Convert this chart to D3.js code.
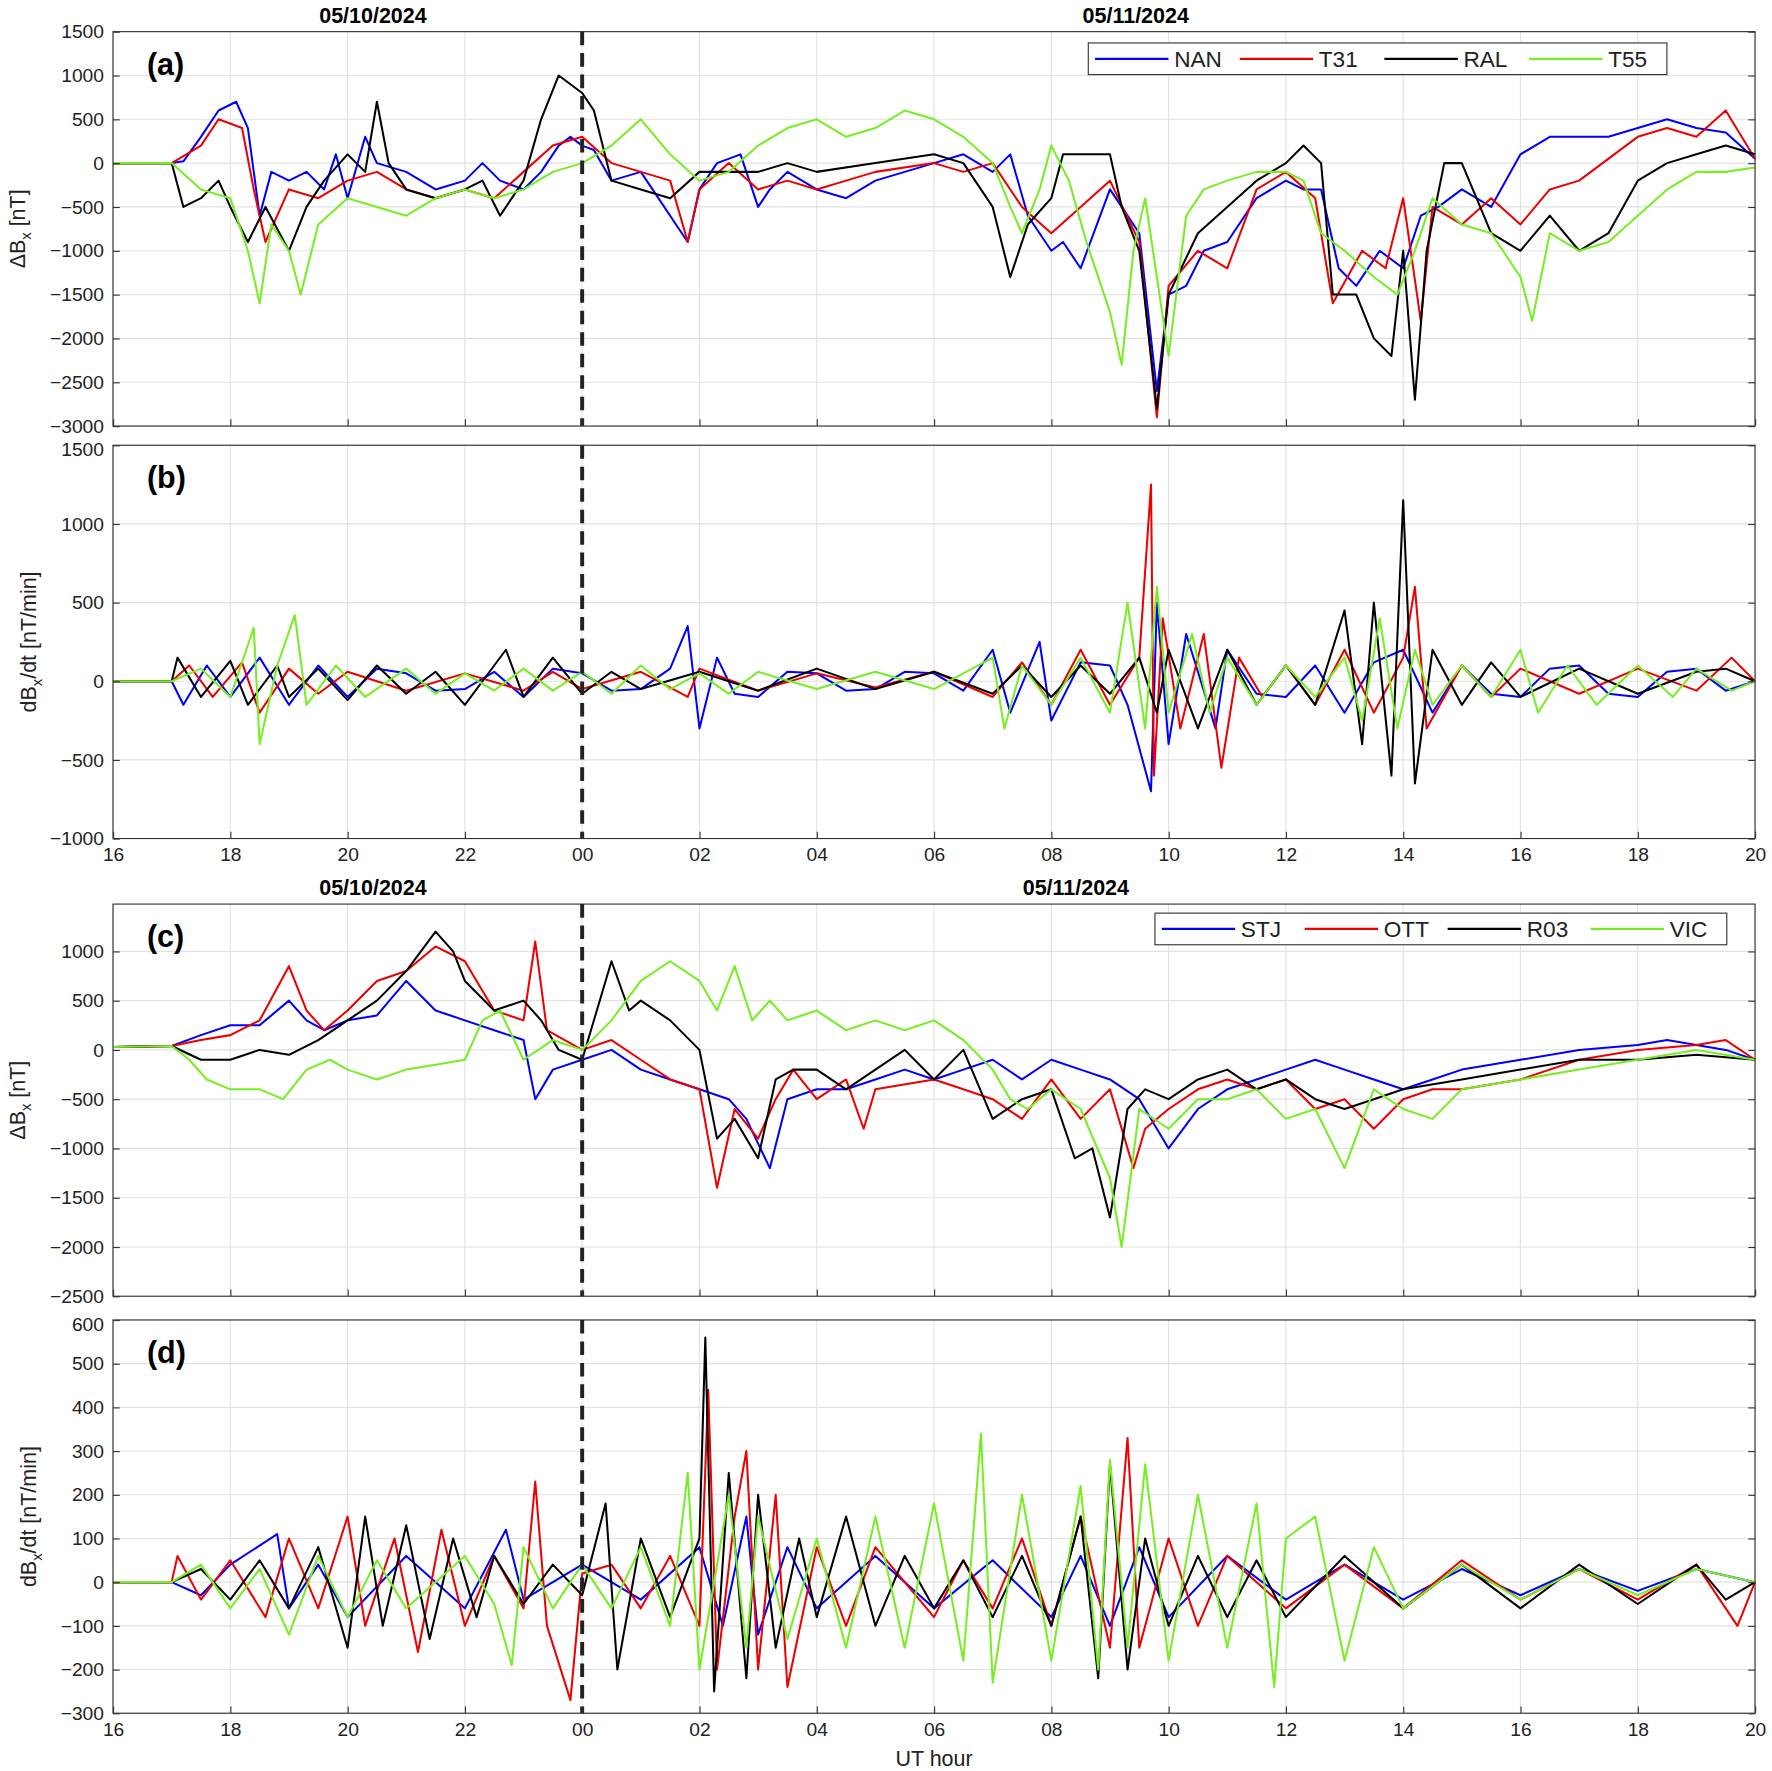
<!DOCTYPE html>
<html><head><meta charset="utf-8">
<script src="https://cdn.jsdelivr.net/npm/d3@7"></script>
<style>body{margin:0;background:#fff}text{font-family:"Liberation Sans",Arial,sans-serif}</style>
</head><body><svg id="c" width="1772" height="1771"></svg>
<script>
// hours run 16 -> 44 (20 UT next day)
const colors = { blue: "#0000ff", red: "#ee0000", black: "#000000", green: "#77ee22" };

// panel (a) ΔBx [nT]
const aNAN = [[16,0],[17,0],[17.2,20],[17.5,300],[17.8,600],[18.1,700],[18.3,400],[18.5,-600],[18.7,-100],[19,-200],[19.3,-100],[19.6,-300],[19.8,100],[20,-400],[20.3,300],[20.5,0],[21,-100],[21.5,-300],[22,-200],[22.3,0],[22.6,-200],[23,-300],[23.3,-100],[23.6,200],[23.8,300],[24,200],[24.2,150],[24.5,-200],[25,-100],[25.3,-400],[25.6,-700],[25.8,-900],[26,-300],[26.3,0],[26.7,100],[27,-500],[27.2,-300],[27.5,-100],[28,-300],[28.5,-400],[29,-200],[29.5,-100],[30,0],[30.5,100],[31,-100],[31.3,100],[31.6,-600],[32,-1000],[32.2,-900],[32.5,-1200],[33,-300],[33.2,-500],[33.5,-800],[33.7,-2000],[33.8,-2600],[34,-1500],[34.3,-1400],[34.6,-1000],[35,-900],[35.5,-400],[36,-200],[36.3,-300],[36.6,-300],[36.9,-1200],[37.2,-1400],[37.6,-1000],[38,-1200],[38.3,-600],[38.6,-500],[39,-300],[39.5,-500],[40,100],[40.5,300],[41,300],[41.5,300],[42,400],[42.5,500],[43,400],[43.5,350],[44,50]];
const aT31 = [[16,0],[17,0],[17.5,200],[17.8,500],[18.2,400],[18.4,-300],[18.6,-900],[19,-300],[19.5,-400],[20,-200],[20.5,-100],[21,-300],[21.5,-400],[22,-300],[22.5,-400],[23,-100],[23.5,200],[24,300],[24.5,0],[25,-100],[25.5,-200],[25.8,-900],[26,-300],[26.5,0],[27,-300],[27.5,-200],[28,-300],[28.5,-200],[29,-100],[30,0],[30.5,-100],[31,0],[31.5,-500],[32,-800],[32.5,-500],[33,-200],[33.5,-900],[33.8,-2900],[34,-1400],[34.5,-1000],[35,-1200],[35.5,-300],[36,-100],[36.5,-400],[36.8,-1600],[37.3,-1000],[37.7,-1200],[38,-400],[38.3,-1800],[38.5,-500],[39,-700],[39.5,-400],[40,-700],[40.5,-300],[41,-200],[42,300],[42.5,400],[43,300],[43.5,600],[44,50]];
const aRAL = [[16,0],[17,0],[17.2,-500],[17.5,-400],[17.8,-200],[18,-500],[18.3,-900],[18.6,-500],[19,-1000],[19.3,-500],[19.6,-200],[20,100],[20.3,-100],[20.5,700],[20.7,0],[21,-300],[21.5,-400],[22,-300],[22.3,-200],[22.6,-600],[23,-200],[23.3,500],[23.6,1000],[24,800],[24.2,600],[24.5,-200],[25,-300],[25.5,-400],[26,-100],[26.5,-100],[27,-100],[27.5,0],[28,-100],[29,0],[30,100],[30.5,0],[31,-500],[31.3,-1300],[31.6,-700],[32,-400],[32.2,100],[32.5,100],[33,100],[33.2,-500],[33.5,-1000],[33.8,-2800],[34,-1500],[34.5,-800],[35,-500],[35.5,-200],[36,0],[36.3,200],[36.6,0],[36.8,-1500],[37.2,-1500],[37.5,-2000],[37.8,-2200],[38,-1000],[38.2,-2700],[38.4,-1000],[38.7,0],[39,0],[39.5,-800],[40,-1000],[40.5,-600],[41,-1000],[41.5,-800],[42,-200],[42.5,0],[43,100],[43.5,200],[44,100]];
const aT55 = [[16,0],[17,0],[17.5,-300],[18,-400],[18.3,-1000],[18.5,-1600],[18.7,-700],[19,-1000],[19.2,-1500],[19.5,-700],[20,-400],[20.5,-500],[21,-600],[21.5,-400],[22,-300],[22.5,-400],[23,-300],[23.5,-100],[24,0],[24.5,200],[25,500],[25.5,100],[26,-200],[26.5,-100],[27,200],[27.5,400],[28,500],[28.5,300],[29,400],[29.5,600],[30,500],[30.5,300],[31,0],[31.3,-500],[31.5,-800],[31.8,-300],[32,200],[32.3,-200],[32.6,-900],[33,-1700],[33.2,-2300],[33.4,-1000],[33.6,-400],[34,-2200],[34.3,-600],[34.6,-300],[35,-200],[35.5,-100],[36,-100],[36.3,-200],[36.6,-800],[37,-1000],[37.5,-1300],[37.9,-1500],[38.2,-1000],[38.5,-400],[39,-700],[39.5,-800],[40,-1300],[40.2,-1800],[40.5,-800],[41,-1000],[41.5,-900],[42,-600],[42.5,-300],[43,-100],[43.5,-100],[44,-50]];

// panel (b) dBx/dt [nT/min]
const bNAN = [[16,0],[17,0],[17.2,-150],[17.6,100],[18,-100],[18.5,150],[19,-150],[19.5,100],[20,-100],[20.5,80],[21,50],[21.5,-60],[22,-50],[22.5,60],[23,-100],[23.5,80],[24,50],[24.5,-60],[25,-50],[25.5,80],[25.8,350],[26,-300],[26.3,150],[26.6,-80],[27,-100],[27.5,60],[28,50],[28.5,-60],[29,-50],[29.5,60],[30,50],[30.5,-60],[31,200],[31.3,-200],[31.8,250],[32,-250],[32.5,120],[33,100],[33.3,-150],[33.7,-700],[33.8,500],[34,-400],[34.3,300],[34.8,-300],[35,200],[35.5,-80],[36,-100],[36.5,100],[37,-200],[37.5,120],[38,200],[38.5,-200],[39,100],[39.5,-80],[40,-100],[40.5,80],[41,100],[41.5,-80],[42,-100],[42.5,60],[43,80],[43.5,-60],[44,0]];
const bT31 = [[16,0],[17,0],[17.3,100],[17.7,-100],[18.2,120],[18.5,-200],[19,80],[19.5,-80],[20,60],[21,-60],[22,50],[23,-60],[23.5,60],[24,-50],[25,60],[25.8,-100],[26,80],[27,-60],[28,50],[29,-40],[30,60],[31,-100],[31.5,120],[32,-150],[32.5,200],[33,-150],[33.5,150],[33.7,1250],[33.75,-600],[33.9,400],[34.2,-300],[34.6,300],[34.9,-550],[35.2,150],[35.6,-100],[36,100],[36.5,-150],[37,200],[37.5,-200],[38,150],[38.2,600],[38.4,-300],[39,100],[39.5,-100],[40,80],[41,-80],[42,80],[43,-60],[43.6,150],[44,0]];
const bRAL = [[16,0],[17,0],[17.1,150],[17.5,-100],[18,130],[18.3,-150],[18.8,100],[19,-100],[19.5,80],[20,-120],[20.5,100],[21,-80],[21.5,60],[22,-150],[22.5,100],[22.7,200],[23,-100],[23.5,150],[24,-80],[24.5,60],[25,-50],[26,60],[27,-60],[28,80],[29,-50],[30,60],[31,-80],[31.5,100],[32,-100],[32.5,100],[33,-80],[33.5,150],[33.8,-200],[34,200],[34.5,-300],[35,200],[35.5,-150],[36,100],[36.5,-150],[37,450],[37.3,-400],[37.5,500],[37.8,-600],[38,1150],[38.2,-650],[38.5,200],[39,-150],[39.5,120],[40,-100],[41,80],[42,-80],[43,60],[43.5,80],[44,0]];
const bT55 = [[16,0],[17,0],[17.5,80],[18,-100],[18.4,340],[18.5,-400],[18.8,100],[19.1,420],[19.3,-150],[19.8,100],[20.3,-100],[21,80],[21.5,-80],[22,50],[22.5,-60],[23,80],[23.5,-60],[24,60],[24.5,-80],[25,100],[25.5,-50],[26,50],[26.5,-80],[27,60],[28,-50],[29,60],[30,-50],[30.5,50],[31,150],[31.2,-300],[31.5,100],[32,-150],[32.5,150],[33,-200],[33.3,500],[33.6,-300],[33.8,600],[34,-200],[34.4,300],[34.7,-200],[35,150],[35.5,-150],[36,100],[36.5,-100],[37,150],[37.3,-250],[37.6,400],[37.9,-300],[38.2,200],[38.5,-150],[39,100],[39.5,-100],[40,200],[40.3,-200],[40.8,100],[41.3,-150],[42,100],[42.6,-100],[43,80],[43.6,-60],[44,0]];

// panel (c) ΔBx [nT]
const cSTJ = [[16,30],[17,40],[17.5,150],[18,250],[18.5,250],[19,500],[19.3,300],[19.6,200],[20,300],[20.5,350],[21,700],[21.5,400],[22,300],[22.5,200],[23,100],[23.2,-500],[23.5,-200],[24,-100],[24.5,0],[25,-200],[25.5,-300],[26,-400],[26.5,-500],[26.8,-700],[27.2,-1200],[27.5,-500],[28,-400],[28.5,-400],[29,-300],[29.5,-200],[30,-300],[30.5,-200],[31,-100],[31.5,-300],[32,-100],[32.5,-200],[33,-300],[33.5,-500],[34,-1000],[34.5,-600],[35,-400],[35.5,-300],[36,-200],[36.5,-100],[37,-200],[37.5,-300],[38,-400],[38.5,-300],[39,-200],[40,-100],[41,0],[42,50],[42.5,100],[43,50],[43.5,0],[44,-100]];
const cOTT = [[16,30],[17,40],[17.5,100],[18,150],[18.5,300],[19,850],[19.3,400],[19.6,200],[20,400],[20.5,700],[21,800],[21.5,1050],[22,900],[22.5,400],[23,300],[23.2,1100],[23.4,200],[24,0],[24.5,100],[25,-100],[25.5,-300],[26,-400],[26.3,-1400],[26.6,-600],[27,-900],[27.3,-500],[27.6,-200],[28,-500],[28.5,-300],[28.8,-800],[29,-400],[30,-300],[30.5,-400],[31,-500],[31.5,-700],[32,-300],[32.5,-700],[33,-400],[33.4,-1200],[33.6,-800],[34,-600],[34.5,-400],[35,-300],[35.5,-400],[36,-300],[36.5,-600],[37,-500],[37.5,-800],[38,-500],[38.5,-400],[39,-400],[40,-300],[41,-100],[42,0],[43,50],[43.5,100],[44,-100]];
const cR03 = [[16,30],[17,40],[17.5,-100],[18,-100],[18.5,0],[19,-50],[19.5,100],[20,300],[20.5,500],[21,800],[21.5,1200],[21.8,1000],[22,700],[22.5,400],[23,500],[23.3,300],[23.6,0],[24,-100],[24.5,900],[24.8,400],[25,500],[25.5,300],[26,0],[26.3,-900],[26.6,-700],[27,-1100],[27.3,-300],[27.6,-200],[28,-200],[28.5,-400],[29,-200],[29.5,0],[30,-300],[30.5,0],[31,-700],[31.5,-500],[32,-400],[32.4,-1100],[32.7,-1000],[33,-1700],[33.3,-600],[33.6,-400],[34,-500],[34.5,-300],[35,-200],[35.5,-400],[36,-300],[36.5,-500],[37,-600],[37.5,-500],[38,-400],[39,-300],[40,-200],[41,-100],[42,-100],[43,-50],[44,-100]];
const cVIC = [[16,30],[17,40],[17.3,-100],[17.6,-300],[18,-400],[18.5,-400],[18.9,-500],[19.3,-200],[19.7,-100],[20,-200],[20.5,-300],[21,-200],[21.5,-150],[22,-100],[22.3,300],[22.6,400],[23,-100],[23.5,100],[24,0],[24.5,300],[25,700],[25.5,900],[26,700],[26.3,400],[26.6,850],[26.9,300],[27.2,500],[27.5,300],[28,400],[28.5,200],[29,300],[29.5,200],[30,300],[30.5,100],[31,-200],[31.3,-500],[31.6,-600],[32,-400],[32.5,-600],[33,-1300],[33.2,-2000],[33.5,-600],[34,-800],[34.5,-500],[35,-500],[35.5,-400],[36,-700],[36.5,-600],[37,-1200],[37.5,-400],[38,-600],[38.5,-700],[39,-400],[40,-300],[41,-200],[42,-100],[43,0],[44,-100]];

// panel (d) dBx/dt [nT/min]
const dSTJ = [[16,0],[17,0],[17.5,-30],[18,40],[18.8,110],[19,-60],[19.5,40],[20,-80],[21,60],[22,-60],[22.7,120],[23,-40],[24,40],[25,-40],[26,80],[26.4,-100],[26.8,150],[27,-120],[27.5,80],[28,-60],[29,60],[30,-60],[31,50],[32,-80],[32.5,60],[33,-100],[33.5,80],[34,-80],[35,60],[36,-40],[37,40],[38,-40],[39,30],[40,-30],[41,30],[42,-20],[43,30],[44,0]];
const dOTT = [[16,0],[17,0],[17.1,60],[17.5,-40],[18,50],[18.6,-80],[19,100],[19.5,-60],[20,150],[20.3,-100],[20.8,100],[21.2,-160],[21.6,120],[22,-100],[22.5,60],[23,-60],[23.2,230],[23.4,-100],[23.8,-270],[24,20],[24.5,40],[25,-60],[25.5,60],[26,-100],[26.15,440],[26.3,-200],[26.6,150],[26.8,300],[27,-200],[27.3,200],[27.5,-240],[28,80],[28.5,-100],[29,80],[30,-80],[30.5,50],[31,-60],[31.5,100],[32,-100],[32.5,150],[33,-150],[33.3,330],[33.5,-150],[34,100],[34.5,-100],[35,60],[36,-60],[37,40],[38,-60],[39,50],[40,-40],[41,30],[42,-40],[43,40],[43.7,-100],[44,0]];
const dR03 = [[16,0],[17,0],[17.5,30],[18,-40],[18.5,50],[19,-60],[19.5,80],[20,-150],[20.3,150],[20.6,-100],[21,130],[21.4,-130],[21.8,100],[22.2,-80],[22.5,60],[23,-50],[23.5,40],[24,-30],[24.4,180],[24.6,-200],[25,100],[25.5,-80],[26,100],[26.1,560],[26.25,-250],[26.5,250],[26.8,-220],[27,200],[27.3,-150],[27.7,100],[28,-80],[28.5,150],[29,-100],[29.5,60],[30,-60],[30.5,50],[31,-80],[31.5,60],[32,-100],[32.5,150],[32.8,-220],[33,270],[33.3,-200],[33.6,100],[34,-100],[34.5,60],[35,-80],[35.5,50],[36,-80],[37,60],[38,-60],[39,40],[40,-60],[41,40],[42,-50],[43,40],[43.5,-40],[44,0]];
const dVIC = [[16,0],[17,0],[17.5,40],[18,-60],[18.5,30],[19,-120],[19.5,60],[20,-80],[20.5,50],[21,-60],[22,60],[22.5,-50],[22.8,-190],[23,80],[23.5,-60],[24,40],[24.5,-60],[25,80],[25.5,-100],[25.8,250],[26,-200],[26.5,200],[26.8,-150],[27,150],[27.5,-130],[28,100],[28.5,-150],[29,150],[29.5,-150],[30,180],[30.5,-180],[30.8,340],[31,-230],[31.5,200],[32,-180],[32.5,220],[32.8,-200],[33,280],[33.3,-150],[33.6,270],[34,-180],[34.5,200],[35,-150],[35.5,180],[35.8,-240],[36,100],[36.5,150],[37,-180],[37.5,80],[38,-60],[39,40],[40,-40],[41,30],[42,-30],[43,30],[44,0]];

const dateLabels = ["05/10/2024", "05/11/2024"];
const xTicks = d3.range(16, 45, 2);

// layout below is drawn in a 1568-wide frame and scaled to the 1772 window
const svg = d3.select("#c").append("g").attr("transform", "scale(1.1301)");
const x = d3.scaleLinear().domain([16, 44]).range([100, 1553]);

const panels = [
  { top: 28, bot: 377, dom: [-3000, 1500], ticks: d3.range(-3000, 1501, 500), tag: "(a)", ylab: "dx", series: [aNAN, aT31, aRAL, aT55], names: ["NAN", "T31", "RAL", "T55"], legend: [963, 38, 512], dates: [330, 1005], xaxis: false },
  { top: 394, bot: 742, dom: [-1000, 1500], ticks: d3.range(-1000, 1501, 500), tag: "(b)", ylab: "dt", series: [bNAN, bT31, bRAL, bT55], xaxis: true },
  { top: 800, bot: 1147, dom: [-2500, 1480], ticks: d3.range(-2500, 1001, 500), tag: "(c)", ylab: "dx", series: [cSTJ, cOTT, cR03, cVIC], names: ["STJ", "OTT", "R03", "VIC"], legend: [1022, 808, 506], dates: [330, 952], xaxis: false },
  { top: 1168, bot: 1516, dom: [-300, 600], ticks: d3.range(-300, 601, 100), tag: "(d)", ylab: "dt", series: [dSTJ, dOTT, dR03, dVIC], xaxis: true }
];
const cols = [colors.blue, colors.red, colors.black, colors.green];

panels.forEach(p => {
  const y = d3.scaleLinear().domain(p.dom).range([p.bot, p.top]);
  const g = svg.append("g");
  // grid
  g.selectAll(".gx").data(xTicks).enter().append("line")
    .attr("x1", d => x(d)).attr("x2", d => x(d)).attr("y1", p.top).attr("y2", p.bot)
    .attr("stroke", "#e2e2e2").attr("stroke-width", 1);
  g.selectAll(".gy").data(p.ticks).enter().append("line")
    .attr("x1", 100).attr("x2", 1553).attr("y1", d => y(d)).attr("y2", d => y(d))
    .attr("stroke", "#e2e2e2").attr("stroke-width", 1);

  const line = d3.line().x(d => x(d[0])).y(d => y(d[1]));
  p.series.forEach((s, i) => {
    g.append("path").datum(s).attr("d", line).attr("fill", "none")
      .attr("stroke", cols[i]).attr("stroke-width", 1.8).attr("stroke-linejoin", "round");
  });

  g.append("rect").attr("x", 100).attr("y", p.top).attr("width", 1453).attr("height", p.bot - p.top)
    .attr("fill", "none").attr("stroke", "#333").attr("stroke-width", 1);

  g.append("line").attr("x1", x(24)).attr("x2", x(24)).attr("y1", p.top).attr("y2", p.bot)
    .attr("stroke", "#222").attr("stroke-width", 3.5).attr("stroke-dasharray", "12,7");

  const ya = g.append("g").attr("transform", "translate(100,0)")
    .call(d3.axisLeft(y).tickValues(p.ticks).tickSize(-6).tickPadding(8).tickFormat(d3.format("d")));
  ya.select(".domain").remove();
  ya.selectAll("text").attr("font-size", 17).attr("fill", "#222");
  ya.selectAll("line").attr("stroke", "#333");
  // shift top label so it doesn't collide with panel above
  if (p.top !== 28) ya.selectAll("text").filter(d => d === p.ticks[p.ticks.length - 1] && y(d) - p.top < 4).attr("dy", "0.55em");
  const yr = g.append("g").attr("transform", "translate(1553,0)")
    .call(d3.axisRight(y).tickValues(p.ticks).tickSize(-6).tickFormat(""));
  yr.select(".domain").remove();
  yr.selectAll("line").attr("stroke", "#333");

  const xa = g.append("g").attr("transform", `translate(0,${p.bot})`)
    .call(d3.axisBottom(x).tickValues(xTicks).tickSize(-6).tickPadding(8)
      .tickFormat(d => String(d % 24).padStart(2, "0")));
  xa.select(".domain").remove();
  xa.selectAll("line").attr("stroke", "#333");
  xa.selectAll("text").attr("font-size", 17).attr("fill", "#222").style("display", p.xaxis ? null : "none");

  g.append("text").attr("x", 130).attr("y", p.top + 38).attr("font-size", 27).attr("font-weight", "bold").text(p.tag);

  const cy = (p.top + p.bot) / 2;
  const yl = g.append("text").attr("transform", `translate(${p.ylab === "dx" ? 22 : 32},${cy}) rotate(-90)`)
    .attr("text-anchor", "middle").attr("font-size", 19).attr("fill", "#222");
  if (p.ylab === "dx") {
    yl.append("tspan").text("ΔB");
    yl.append("tspan").attr("font-size", 13).attr("dy", 5).text("x");
    yl.append("tspan").attr("dy", -5).text(" [nT]");
  } else {
    yl.append("tspan").text("dB");
    yl.append("tspan").attr("font-size", 13).attr("dy", 5).text("x");
    yl.append("tspan").attr("dy", -5).text("/dt  [nT/min]");
  }

  if (p.dates) {
    p.dates.forEach((cx, i) => g.append("text").attr("x", cx).attr("y", p.top - 8)
      .attr("text-anchor", "middle").attr("font-size", 19).attr("font-weight", "bold").text(dateLabels[i]));
  }

  if (p.legend) {
    const [lx, ly, lw] = p.legend;
    g.append("rect").attr("x", lx).attr("y", ly).attr("width", lw).attr("height", 28)
      .attr("fill", "#fff").attr("stroke", "#333").attr("stroke-width", 1);
    const step = lw / 4;
    p.names.forEach((n, i) => {
      const ox = lx + 6 + i * step;
      g.append("line").attr("x1", ox).attr("x2", ox + 65).attr("y1", ly + 14).attr("y2", ly + 14)
        .attr("stroke", cols[i]).attr("stroke-width", 2);
      g.append("text").attr("x", ox + 70).attr("y", ly + 21).attr("font-size", 20).attr("fill", "#222").text(n);
    });
  }
});

svg.append("text").attr("x", x(30)).attr("y", 1563).attr("text-anchor", "middle")
  .attr("font-size", 19).attr("fill", "#222").text("UT hour");
</script></body></html>
